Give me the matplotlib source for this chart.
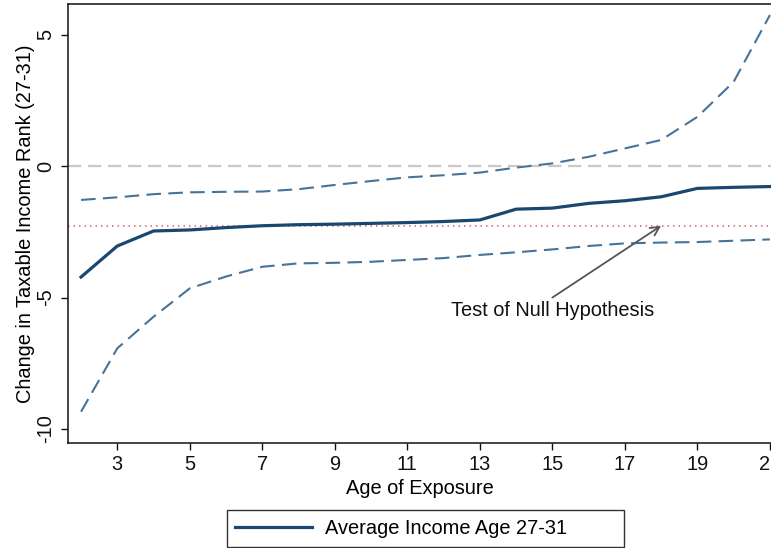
import matplotlib
matplotlib.use("Agg")
import matplotlib.pyplot as plt
from matplotlib.patches import Rectangle

# ---- data ----
ages = [2, 3, 4, 5, 6, 7, 8, 9, 10, 11, 12, 13, 14, 15, 16, 17, 18, 19, 20, 21]
avg_income = [-4.22, -3.04, -2.47, -2.43, -2.34, -2.27, -2.23, -2.21, -2.18, -2.15,
              -2.11, -2.05, -1.64, -1.60, -1.42, -1.32, -1.17, -0.85, -0.81, -0.78]
ci_upper = [-1.29, -1.19, -1.07, -1.00, -0.98, -0.97, -0.88, -0.72, -0.57, -0.43,
            -0.35, -0.25, -0.06, 0.10, 0.35, 0.67, 0.99, 1.87, 3.20, 5.74]
ci_lower = [-9.34, -6.93, -5.73, -4.65, -4.20, -3.83, -3.70, -3.68, -3.64, -3.57,
            -3.50, -3.38, -3.28, -3.17, -3.04, -2.94, -2.91, -2.89, -2.84, -2.79]
null_value = -2.28
zero_value = 0
x_ticks = [3, 5, 7, 9, 11, 13, 15, 17, 19, 21]
y_ticks = [-10, -5, 0, 5]
legend_label = "Average Income Age 27-31"
annotation_text = "Test of Null Hypothesis"
arrow_head = (18, -2.27)
arrow_tail = (15, -5.0)
text_pos = (15, -5.48)

plt.rcParams['font.family'] = ['Liberation Sans', 'DejaVu Sans']
plt.rcParams['axes.unicode_minus'] = False
FS = 14.4

W, H = 771, 548
fig = plt.figure(figsize=(W / 100, H / 100), dpi=100)
left, right, top, bottom = 68, 771, 4, 443
ax = fig.add_axes([left / W, 1 - bottom / H, (right - left) / W, (bottom - top) / H])

navy = '#1a476f'
ci_col = '#46739a'

ax.axhline(zero_value, color='#c8c8c8', lw=1.6, dashes=(6, 3), zorder=1)
ax.axhline(null_value, color='#cc6670', lw=1.1, dashes=(1, 2.6), zorder=1)
ax.plot(ages, ci_upper, color=ci_col, lw=1.5, dashes=(7, 3.5), zorder=2)
ax.plot(ages, ci_lower, color=ci_col, lw=1.5, dashes=(7, 3.5), zorder=2)
line, = ax.plot(ages, avg_income, color=navy, lw=2.3, zorder=3,
                solid_joinstyle='round', label=legend_label)

ax.annotate('', xy=arrow_head, xytext=arrow_tail,
            arrowprops=dict(arrowstyle='->', color='#555555', lw=1.3,
                            mutation_scale=16, shrinkA=0, shrinkB=0))
ax.text(text_pos[0], text_pos[1], annotation_text, ha='center', va='center',
        fontsize=FS, color='#111111')

ax.set_xlim(1.64, 21.03)
ax.set_ylim(-10.53, 6.16)
ax.set_xticks(x_ticks)
ax.set_yticks(y_ticks)
ax.tick_params(axis='both', direction='out', length=5, width=1, labelsize=FS,
               colors='#111111', pad=4)
for lab in ax.get_yticklabels():
    lab.set_rotation(90)
    lab.set_va('center')
ax.spines['right'].set_visible(False)
for s in ['left', 'bottom', 'top']:
    ax.spines[s].set_linewidth(1.2)
    ax.spines[s].set_color('#222222')

ax.set_xlabel('Age of Exposure', fontsize=FS, labelpad=3)
ax.set_ylabel('Change in Taxable Income Rank (27-31)', fontsize=FS, labelpad=1)

# legend box
fig.patches.append(Rectangle((227 / W, 1 - 547 / H), (624 - 227) / W, (547 - 510) / H,
                             transform=fig.transFigure, fill=False,
                             edgecolor='#333333', lw=1.0))
fig.legend(handles=[line], loc='center left',
           bbox_to_anchor=(231 / W, 1 - 528.5 / H), frameon=False,
           fontsize=FS, handlelength=3.85, handletextpad=0.65, borderpad=0.2,
           borderaxespad=0)

fig.savefig('out.png', dpi=100)
